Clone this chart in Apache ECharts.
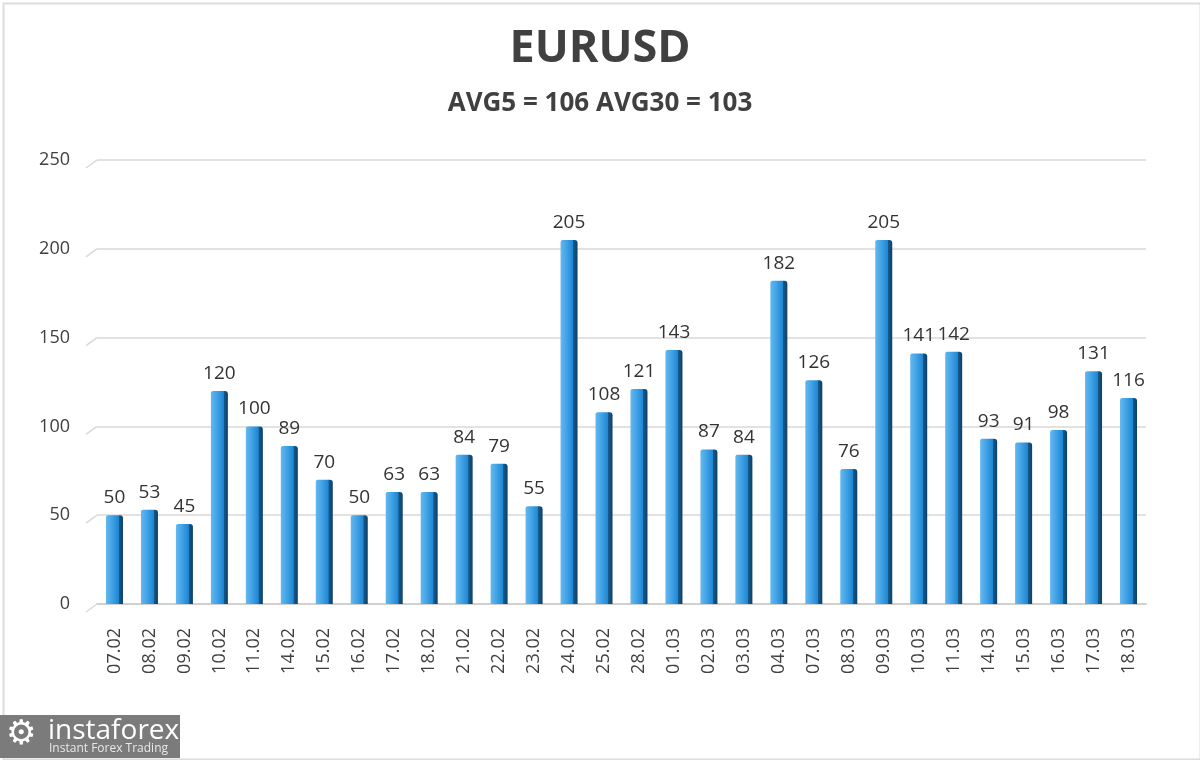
<!DOCTYPE html>
<html><head><meta charset="utf-8">
<script src="https://cdn.jsdelivr.net/npm/echarts@6/dist/echarts.min.js"></script>
<style>html,body{margin:0;padding:0;background:#fff}#c{width:1200px;height:760px}</style>
</head><body><div id="c"></div>
<script>
const categories = ["07.02","08.02","09.02","10.02","11.02","14.02","15.02","16.02","17.02","18.02","21.02","22.02","23.02","24.02","25.02","28.02","01.03","02.03","03.03","04.03","07.03","08.03","09.03","10.03","11.03","14.03","15.03","16.03","17.03","18.03"];
const values = [50,53,45,120,100,89,70,50,63,63,84,79,55,205,108,121,143,87,84,182,126,76,205,141,142,93,91,98,131,116];
const yTicks = [0,50,100,150,200,250];
const titleText = "EURUSD";
const subtitleText = "AVG5 = 106 AVG30 = 103";

const chart = echarts.init(document.getElementById('c'));
const font = "'Open Sans', 'Noto Sans', sans-serif";
const baseGraphics = [
  {type: 'rect', left: 1, top: 1, shape: {width: 1197, height: 756}, style: {fill: 'none', stroke: '#dcdcdc', lineWidth: 2}, z: 100},
  {type: 'rect', left: 0, top: 715, shape: {width: 180, height: 43}, style: {fill: '#7b7b7b'}, z: 101},
  {type: 'text', left: 6, top: 718, style: {text: '\u2699', fill: '#ffffff', font: "34px 'DejaVu Sans'"}, z: 102},
  {type: 'text', left: 48, top: 717, style: {text: 'instaforex', fill: '#ffffff', font: "28px 'Open Sans', sans-serif"}, z: 102},
  {type: 'text', left: 49, top: 743, style: {text: 'Instant Forex Trading', fill: '#e8e8e8', font: "12px 'Open Sans', sans-serif"}, z: 102}
];
chart.setOption({
  backgroundColor: '#ffffff',
  animation: false,
  title: [
    {text: titleText, left: 'center', top: 22, textStyle: {fontFamily: font, fontSize: 45, fontWeight: 'bold', color: '#404040'}},
    {text: subtitleText, left: 'center', top: 86, textStyle: {fontFamily: font, fontSize: 26, fontWeight: 'bold', color: '#404040'}}
  ],
  grid: {left: 97, right: 54, top: 160, bottom: 156},
  xAxis: {
    type: 'category', data: categories,
    axisLine: {show: true, lineStyle: {color: '#d0d0d0', width: 2}},
    axisTick: {show: false},
    axisLabel: {rotate: 90, margin: 24, fontFamily: font, fontSize: 18, color: '#404040'}
  },
  yAxis: {
    type: 'value', min: yTicks[0], max: yTicks[yTicks.length-1], interval: 50,
    axisLine: {show: false}, axisTick: {show: false},
    axisLabel: {margin: 27, fontFamily: font, fontSize: 18, color: '#404040'},
    splitLine: {lineStyle: {color: '#d9d9d9', width: 1.5}}
  },
  series: [{
    type: 'bar', data: values, barWidth: 17,
    itemStyle: {
      borderRadius: [2, 3, 0, 0],
      color: new echarts.graphic.LinearGradient(0, 0, 1, 0, [
        {offset: 0, color: '#64b8ef'},
        {offset: 0.35, color: '#42a3e6'},
        {offset: 0.74, color: '#1f86d2'},
        {offset: 0.76, color: '#155a8c'},
        {offset: 1, color: '#0f3f66'}
      ])
    },
    label: {show: true, position: 'top', distance: 8, fontFamily: font, fontSize: 19, color: '#333333'}
  }],
  graphic: baseGraphics
});
// slanted perspective stubs on the left of each gridline
const stubs = yTicks.map(v => {
  const y = chart.convertToPixel({yAxisIndex: 0}, v);
  return {type: 'line', shape: {x1: 86, y1: y + 8, x2: 97, y2: y}, style: {stroke: '#d9d9d9', lineWidth: 1.5}, z: 1};
});
chart.setOption({graphic: baseGraphics.concat(stubs)});
</script></body></html>
